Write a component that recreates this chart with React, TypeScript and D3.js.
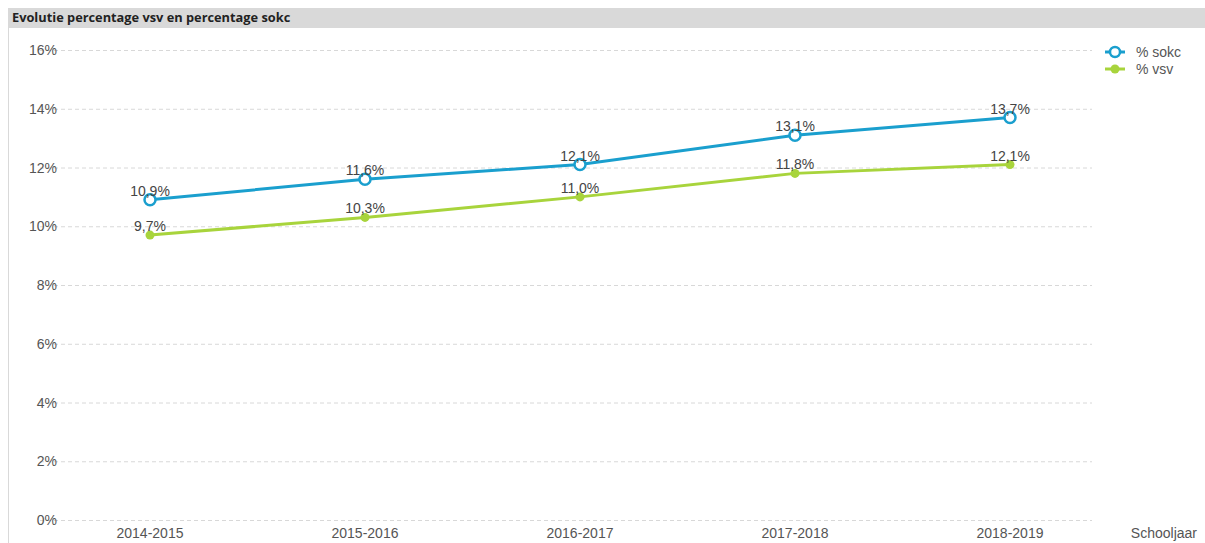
import React from 'react';
import * as d3 from 'd3';

const years = ['2014-2015', '2015-2016', '2016-2017', '2017-2018', '2018-2019'];
const sokc = [10.9, 11.6, 12.1, 13.1, 13.7];
const vsv = [9.7, 10.3, 11.0, 11.8, 12.1];
const yTicks = [0, 2, 4, 6, 8, 10, 12, 14, 16];

const W = 1205, H = 543;
const font = 'Liberation Sans, Arial, sans-serif';
const blue = '#1a9fce';
const green = '#a8d43c';

const App = () => {
  const x = d3.scalePoint<string>().domain(years).range([150, 1010]);
  const y = d3.scaleLinear().domain([0, 16]).range([520, 50]);
  const line = d3.line<number>().x((d, i) => x(years[i]) as number).y(d => y(d));
  const fmt = (v: number) => v.toFixed(1).replace('.', ',') + '%';

  return (
    <svg width={W} height={H} style={{ position: 'absolute', left: 0, top: 0 }}>
      <rect x={8} y={8} width={W - 8} height={20} fill="#d9d9d9" />
      <text x={12} y={22} fontFamily="Open Sans, sans-serif" fontWeight="bold" fontSize={12.8} fill="#222">
        Evolutie percentage vsv en percentage sokc
      </text>
      <line x1={8.5} x2={8.5} y1={28} y2={H} stroke="#d9d9d9" />

      {yTicks.map(t => (
        <g key={t}>
          <line x1={40} x2={1092} y1={y(t) + 0.5} y2={y(t) + 0.5} stroke="#d8d8d8" strokeDasharray="4,3" />
          <text x={57} y={y(t) + 5} textAnchor="end" fontFamily={font} fontSize={14} fill="#555">{t}%</text>
        </g>
      ))}

      {years.map(yr => (
        <text key={yr} x={x(yr)} y={538} textAnchor="middle" fontFamily={font} fontSize={14} fill="#555">{yr}</text>
      ))}
      <text x={1197} y={538} textAnchor="end" fontFamily={font} fontSize={14} fill="#555">Schooljaar</text>

      <path d={line(vsv) || ''} fill="none" stroke={green} strokeWidth={3} />
      <path d={line(sokc) || ''} fill="none" stroke={blue} strokeWidth={3} />

      {vsv.map((v, i) => (
        <circle key={'g' + i} cx={x(years[i])} cy={y(v)} r={4.5} fill={green} />
      ))}
      {sokc.map((v, i) => (
        <circle key={'b' + i} cx={x(years[i])} cy={y(v)} r={5.5} fill="#fff" stroke={blue} strokeWidth={2.5} />
      ))}

      {vsv.map((v, i) => (
        <text key={'gl' + i} x={x(years[i])} y={y(v) - 4} textAnchor="middle" fontFamily={font} fontSize={14} fill="#444">{fmt(v)}</text>
      ))}
      {sokc.map((v, i) => (
        <text key={'bl' + i} x={x(years[i])} y={y(v) - 4} textAnchor="middle" fontFamily={font} fontSize={14} fill="#444">{fmt(v)}</text>
      ))}

      <g>
        <line x1={1105} x2={1125} y1={52} y2={52} stroke={blue} strokeWidth={3} />
        <circle cx={1115} cy={52} r={5} fill="#fff" stroke={blue} strokeWidth={2.5} />
        <text x={1136} y={57} fontFamily={font} fontSize={14} fill="#555">% sokc</text>
        <line x1={1105} x2={1125} y1={69} y2={69} stroke={green} strokeWidth={3} />
        <circle cx={1115} cy={69} r={4.5} fill={green} />
        <text x={1136} y={74} fontFamily={font} fontSize={14} fill="#555">% vsv</text>
      </g>
    </svg>
  );
};

export default App;
